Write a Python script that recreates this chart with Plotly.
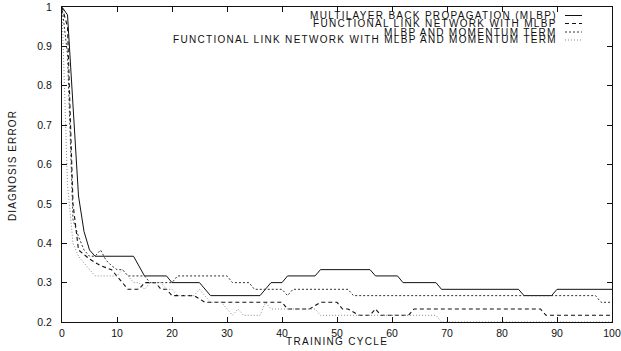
import plotly.graph_objects as go

# ---------------- data ----------------
mlbp_x = [0, 1, 3, 4, 5, 6, 13, 15, 19, 20, 25, 27, 36, 38, 40, 41, 46, 47, 56, 57,
          61, 62, 68, 69, 83, 84, 89, 90, 100]
mlbp_y = [1.0, 0.98, 0.52, 0.43, 0.383, 0.367, 0.367, 0.317, 0.317, 0.3, 0.3, 0.267,
          0.267, 0.3, 0.3, 0.317, 0.317, 0.333, 0.333, 0.317, 0.317, 0.3, 0.3, 0.283,
          0.283, 0.267, 0.267, 0.283, 0.283]

fln_x = [0, 1, 2, 3, 5, 7, 9, 12, 14, 15, 17, 18, 19, 20, 24, 26, 40, 41, 45, 47, 50,
         51, 52, 54, 56, 57, 58, 63, 64, 87, 88, 100]
fln_y = [1.0, 0.95, 0.5, 0.383, 0.36, 0.343, 0.333, 0.283, 0.283, 0.3, 0.3, 0.283,
         0.283, 0.267, 0.267, 0.25, 0.25, 0.233, 0.233, 0.25, 0.25, 0.233, 0.233, 0.217,
         0.217, 0.233, 0.217, 0.217, 0.233, 0.233, 0.217, 0.217]

mom_x = [0, 1, 2, 3, 4, 5, 6, 7, 8, 9, 10, 11, 12, 15, 16, 20, 21, 30, 31, 34, 35, 40,
         41, 42, 52, 53, 97, 98, 100]
mom_y = [1.0, 0.88, 0.46, 0.417, 0.383, 0.367, 0.367, 0.383, 0.357, 0.343, 0.333,
         0.333, 0.317, 0.317, 0.3, 0.3, 0.317, 0.317, 0.3, 0.3, 0.283, 0.283, 0.267,
         0.283, 0.283, 0.267, 0.267, 0.25, 0.25]

flnmom_x = [0, 1, 2, 3, 4, 5, 6, 10, 11, 12, 13, 14, 15, 16, 18, 19, 20, 21, 24, 25,
            27, 29, 30, 31, 32, 33, 36, 37, 38, 46, 47, 68, 69, 100]
flnmom_y = [1.0, 0.55, 0.4, 0.367, 0.35, 0.333, 0.317, 0.317, 0.333, 0.317, 0.3, 0.3,
            0.283, 0.3, 0.3, 0.283, 0.283, 0.267, 0.267, 0.283, 0.25, 0.25, 0.233,
            0.217, 0.233, 0.217, 0.217, 0.25, 0.233, 0.233, 0.217, 0.217, 0.2, 0.2]

legend_labels = [
    "MULTILAYER BACK PROPAGATION (MLBP)",
    "FUNCTIONAL LINK NETWORK WITH MLBP",
    "MLBP AND MOMENTUM TERM",
    "FUNCTIONAL LINK NETWORK WITH MLBP AND MOMENTUM TERM",
]
y_ticks = [0.2, 0.3, 0.4, 0.5, 0.6, 0.7, 0.8, 0.9, 1.0]
y_ticktext = ["0.2", "0.3", "0.4", "0.5", "0.6", "0.7", "0.8", "0.9", "1"]
x_ticks = [0, 10, 20, 30, 40, 50, 60, 70, 80, 90, 100]

# ---------------- styles ----------------
series = [
    (mlbp_x, mlbp_y, dict(color="#111111", width=1.0, dash="solid")),
    (fln_x, fln_y, dict(color="#111111", width=1.1, dash="4px,3px")),
    (mom_x, mom_y, dict(color="#333333", width=1.0, dash="2px,2px")),
    (flnmom_x, flnmom_y, dict(color="#8a8a8a", width=1.0, dash="1px,2px")),
]

FONT = "Liberation Sans, Arial, sans-serif"
SPACED = '<span style="letter-spacing:{}px">{}</span>'

fig = go.Figure()
for (xs, ys, ln), name in zip(series, legend_labels):
    fig.add_trace(go.Scatter(x=xs, y=ys, mode="lines", line=ln, name=name,
                             showlegend=False))

# geometry of plot area in pixels
W, H = 621, 351
L, R, T, B = 62, 612, 7, 322
pw, ph = R - L, B - T


def px2paper_x(px):
    return (px - L) / pw


def px2paper_y(py):
    return (B - py) / ph


# manual legend (text right aligned, sample line after it)
legend_rows = [15.5, 23.5, 32.0, 40.0]
annotations = []
shapes = []
for (xs, ys, ln), label, ry in zip(series, legend_labels, legend_rows):
    annotations.append(dict(
        x=px2paper_x(559), y=px2paper_y(ry), xref="paper", yref="paper",
        text=SPACED.format(1.3, label), showarrow=False, xanchor="right",
        yanchor="middle", font=dict(family=FONT, size=10, color="#111111")))
    shapes.append(dict(
        type="line", xref="paper", yref="paper",
        x0=px2paper_x(565), x1=px2paper_x(582),
        y0=px2paper_y(ry), y1=px2paper_y(ry),
        line=ln))

# axis titles
annotations.append(dict(
    x=px2paper_x(336.5), y=px2paper_y(341), xref="paper", yref="paper",
    text=SPACED.format(1.3, "TRAINING CYCLE"), showarrow=False, xanchor="center",
    yanchor="middle", font=dict(family=FONT, size=10, color="#111111")))
annotations.append(dict(
    x=px2paper_x(12), y=px2paper_y(166), xref="paper", yref="paper",
    text=SPACED.format(1.1, "DIAGNOSIS ERROR"), showarrow=False, xanchor="center",
    yanchor="middle", textangle=-90,
    font=dict(family=FONT, size=10, color="#111111")))

axis_common = dict(
    showgrid=False, zeroline=False, showline=True, linecolor="#111111",
    linewidth=1, mirror="ticks", ticks="inside", ticklen=5, tickwidth=1,
    tickcolor="#111111", tickfont=dict(family=FONT, size=10.5, color="#111111"),
    automargin=False,
)

fig.update_layout(
    width=W, height=H,
    margin=dict(l=L, r=W - R, t=T, b=H - B, autoexpand=False),
    paper_bgcolor="white", plot_bgcolor="white",
    xaxis=dict(range=[0, 100], tickvals=x_ticks, ticklabelstandoff=1, **axis_common),
    yaxis=dict(range=[0.2, 1.0], tickvals=y_ticks, ticktext=y_ticktext,
               ticklabelstandoff=7, **axis_common),
    annotations=annotations, shapes=shapes,
    showlegend=False,
)

fig.write_html("out.html")
